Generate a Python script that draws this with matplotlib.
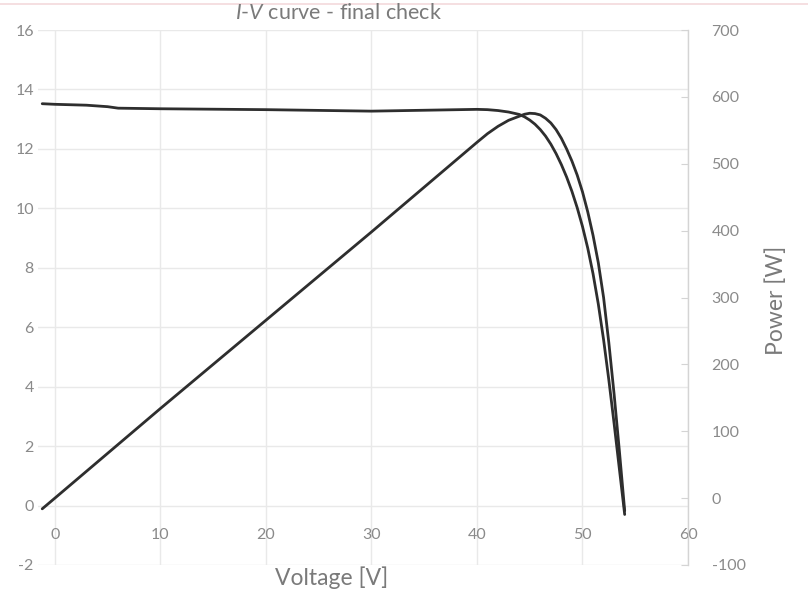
import matplotlib
matplotlib.use("Agg")
import matplotlib.pyplot as plt
from matplotlib.lines import Line2D

plt.rcParams['font.family'] = ['Lato', 'DejaVu Sans']
plt.rcParams['mathtext.fontset'] = 'custom'
plt.rcParams['mathtext.it'] = 'Lato:italic'
plt.rcParams['mathtext.rm'] = 'Lato'
plt.rcParams['axes.unicode_minus'] = False

# I-V curve (voltage [V], current [A])
iv_voltage = [-1.2, 0, 3, 5, 6, 10, 20, 30, 35, 40, 41, 42, 43, 44, 44.5, 45, 45.5, 46,
              46.5, 47, 47.5, 48, 48.5, 49, 49.5, 50, 50.5, 51, 51.5, 52, 52.5, 53, 53.5, 54.0]
iv_current = [13.52, 13.50, 13.47, 13.42, 13.37, 13.35, 13.32, 13.27, 13.30, 13.33, 13.32,
              13.29, 13.24, 13.16, 13.08, 12.97, 12.83, 12.65, 12.43, 12.16, 11.84, 11.47,
              11.05, 10.57, 10.02, 9.39, 8.66, 7.80, 6.78, 5.58, 4.22, 2.75, 1.22, -0.30]

# Power curve (voltage [V], power [W])
p_voltage = [-1.2, 0, 5, 10, 15, 20, 25, 30, 35, 40, 41, 42, 43, 44, 44.5, 45, 45.5, 46,
             46.5, 47, 47.5, 48, 48.5, 49, 49.5, 50, 50.5, 51, 51.5, 52, 52.5, 53, 53.5, 54.0]
p_power = [-16, 0, 67, 134, 200, 266, 332, 398, 465, 532, 545, 556, 565, 571, 574, 575.5,
           575, 573, 568, 561, 551, 538, 522, 504, 483, 458, 428, 393, 352, 300, 232, 155,
           70, -19]

x_ticks = [0, 10, 20, 30, 40, 50, 60]
left_ticks = [-2, 0, 2, 4, 6, 8, 10, 12, 14, 16]
right_ticks = [-100, 0, 100, 200, 300, 400, 500, 600, 700]

W, H = 808, 598
fig = plt.figure(figsize=(W / 100, H / 100), dpi=100)
ax = fig.add_axes([38 / W, 1 - 565 / H, (688 - 38) / W, (565 - 30) / H])

line_col = '#2e2e2e'
grid_col = '#e9e9e9'
txt_col = '#8a8a8a'

ax.plot(iv_voltage, iv_current, color=line_col, lw=2.0, solid_capstyle='round',
        solid_joinstyle='round', zorder=3)
ax.set_xlim(-1.6, 60)
ax.set_ylim(-2, 16)
ax.set_xticks(x_ticks)
ax.set_yticks(left_ticks)
ax.grid(True, color=grid_col, lw=1.0)
ax.set_axisbelow(True)
for s in ['top', 'left', 'right']:
    ax.spines[s].set_visible(False)
ax.spines['bottom'].set_position(('data', 0))
ax.spines['bottom'].set_visible(False)
ax.tick_params(axis='x', length=0, pad=16, labelsize=11.5, labelcolor=txt_col)
ax.tick_params(axis='y', length=0, pad=3, labelsize=11.5, labelcolor=txt_col)

ax2 = ax.twinx()
ax2.plot(p_voltage, p_power, color=line_col, lw=2.0, solid_capstyle='round',
         solid_joinstyle='round', zorder=3)
ax2.set_ylim(-100, 700)
ax2.set_yticks(right_ticks)
for s in ['top', 'left', 'bottom']:
    ax2.spines[s].set_visible(False)
ax2.spines['right'].set_color('#d4d4d4')
ax2.spines['right'].set_linewidth(1.0)
ax2.tick_params(axis='y', direction='in', length=5, color='#d4d4d4', pad=17,
                labelsize=11.5, labelcolor=txt_col)

fig.text(338 / W, 1 - 13 / H, r'$I$-$V$ curve - final check', ha='center', va='center',
         fontsize=15.5, color='#7a7a7a')
fig.text(332 / W, 1 - 578 / H, 'Voltage [V]', ha='center', va='center',
         fontsize=16.5, color='#7a7a7a')
fig.text(776 / W, 1 - 300 / H, 'Power [W]', ha='center', va='center', rotation=90,
         fontsize=16.5, color='#7a7a7a')

fig.add_artist(Line2D([0, 1], [1 - 4 / H, 1 - 4 / H], transform=fig.transFigure,
                      color='#f3d9dc', lw=1.2))

fig.savefig('out.png', dpi=100)
